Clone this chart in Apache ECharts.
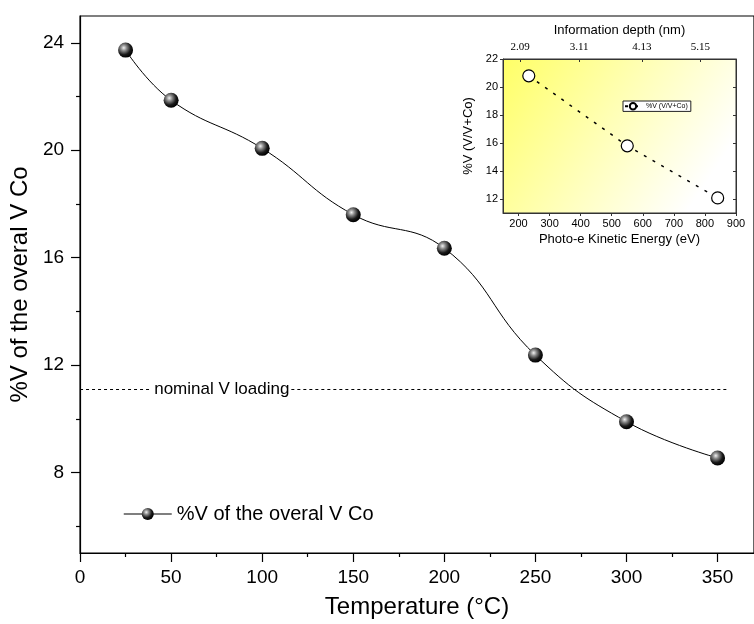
<!DOCTYPE html>
<html>
<head>
<meta charset="utf-8">
<script src="https://cdn.jsdelivr.net/npm/echarts@6/dist/echarts.min.js"></script>
<style>
  html, body { margin: 0; padding: 0; background: #fff; }
  #chart { width: 754px; height: 624px; }
</style>
</head>
<body>
<div id="chart"></div>
<script>
// main chart data
const temps = [25, 50, 100, 150, 200, 250, 300, 350];
const vPercent = [23.73, 21.86, 20.07, 17.6, 16.35, 12.37, 9.89, 8.54];
const nominalLoading = 11.1;
const xTicks = [0, 50, 100, 150, 200, 250, 300, 350];
const xMinorTicks = [25, 75, 125, 175, 225, 275, 325];
const yTicks = [8, 12, 16, 20, 24];
const yMinorTicks = [6, 10, 14, 18, 22];

// inset data
const kinetic = [233, 550, 841];
const insetV = [20.8, 15.8, 12.08];
const insetXTicks = [200, 300, 400, 500, 600, 700, 800, 900];
const insetYTicks = [12, 14, 16, 18, 20, 22];
const depthPos = [205, 395, 597, 785];
const depthLabels = ['2.09', '3.11', '4.13', '5.15'];

const font = 'Liberation Sans, Arial, sans-serif';
const ball = {
    type: 'radial', x: 0.38, y: 0.35, r: 0.65,
    colorStops: [
        { offset: 0, color: '#f2f2f2' },
        { offset: 0.3, color: '#8a8a8a' },
        { offset: 0.7, color: '#1a1a1a' },
        { offset: 1, color: '#000' }
    ]
};

let chart = echarts.init(document.getElementById('chart'));

let option = {
    animation: false,
    backgroundColor: '#fff',
    grid: [
        { left: 78, right: 0, top: 16, bottom: 71, show: true, borderColor: '#000', borderWidth: 1.2 },
        {
            left: 503, right: 18, top: 59, bottom: 411, show: true,
            borderColor: '#333', borderWidth: 1,
            backgroundColor: {
                type: 'linear', x: 0, y: 0, x2: 1, y2: 1,
                colorStops: [
                    { offset: 0, color: '#ffff66' },
                    { offset: 0.45, color: '#ffffb8' },
                    { offset: 0.85, color: '#ffffff' },
                    { offset: 1, color: '#ffffff' }
                ]
            }
        }
    ],
    legend: [
        {
            left: 118, top: 499,
            itemWidth: 48, itemHeight: 15,
            data: ['%V of the overal V Co'],
            textStyle: { fontFamily: font, fontSize: 20, color: '#000' },
            lineStyle: { color: '#555', width: 1.5 }
        },
        {
            left: 623, top: 101,
            itemWidth: 16, itemHeight: 8, itemGap: 4,
            padding: [1, 3, 1, 1],
            borderColor: '#222', borderWidth: 1,
            backgroundColor: '#fff',
            data: ['%V (V/V+Co)'],
            textStyle: { fontFamily: font, fontSize: 7, color: '#000' }
        }
    ],
    xAxis: [
        {
            gridIndex: 0, type: 'value', min: 0, max: 370,
            name: 'Temperature (°C)', nameLocation: 'middle', nameGap: 42,
            nameTextStyle: { fontFamily: font, fontSize: 24, color: '#000' },
            axisLine: { onZero: false, lineStyle: { color: '#000', width: 1.2 } },
            axisTick: { customValues: xTicks, length: 9, lineStyle: { color: '#000', width: 1.2 } },
            axisLabel: { customValues: xTicks, margin: 15, fontFamily: font, fontSize: 19, color: '#000' },
            splitLine: { show: false }
        },
        {
            gridIndex: 0, type: 'value', min: 0, max: 370, position: 'bottom',
            axisLine: { show: false, onZero: false },
            axisTick: { customValues: xMinorTicks, length: 4, lineStyle: { color: '#000', width: 1.2 } },
            axisLabel: { show: false },
            splitLine: { show: false }
        },
        {
            gridIndex: 1, type: 'value', min: 150, max: 900, position: 'bottom',
            name: 'Photo-e Kinetic Energy (eV)', nameLocation: 'middle', nameGap: 20,
            nameTextStyle: { fontFamily: font, fontSize: 13, color: '#000' },
            axisLine: { onZero: false, lineStyle: { color: '#333' } },
            axisTick: { customValues: insetXTicks, length: 3, lineStyle: { color: '#333' } },
            axisLabel: { customValues: insetXTicks, margin: 5, fontFamily: font, fontSize: 11, color: '#000' },
            splitLine: { show: false }
        },
        {
            gridIndex: 1, type: 'value', min: 150, max: 900, position: 'top',
            name: 'Information depth (nm)', nameLocation: 'middle', nameGap: 22,
            nameTextStyle: { fontFamily: font, fontSize: 13, color: '#000' },
            axisLine: { onZero: false, lineStyle: { color: '#333' } },
            axisTick: { customValues: depthPos, inside: true, length: 3, lineStyle: { color: '#333' } },
            axisLabel: {
                customValues: depthPos,
                formatter: function (v) { return depthLabels[depthPos.indexOf(v)]; },
                margin: 6, fontFamily: 'Liberation Serif, Times New Roman, serif', fontSize: 11, color: '#000'
            },
            splitLine: { show: false }
        }
    ],
    yAxis: [
        {
            gridIndex: 0, type: 'value', min: 5, max: 25,
            name: '%V of the overal V Co', nameLocation: 'middle', nameGap: 40,
            nameTextStyle: { fontFamily: font, fontSize: 24, color: '#000' },
            axisLine: { show: true, onZero: false, lineStyle: { color: '#000', width: 1.2 } },
            axisTick: { show: true, customValues: yTicks, length: 9, lineStyle: { color: '#000', width: 1.2 } },
            axisLabel: { customValues: yTicks, margin: 16, fontFamily: font, fontSize: 19, color: '#000' },
            splitLine: { show: false }
        },
        {
            gridIndex: 0, type: 'value', min: 5, max: 25, position: 'left',
            axisLine: { show: false, onZero: false },
            axisTick: { show: true, customValues: yMinorTicks, length: 4, lineStyle: { color: '#000', width: 1.2 } },
            axisLabel: { show: false },
            splitLine: { show: false }
        },
        {
            gridIndex: 1, type: 'value', min: 11, max: 22, position: 'left',
            name: '%V (V/V+Co)', nameLocation: 'middle', nameGap: 28,
            nameTextStyle: { fontFamily: font, fontSize: 13, color: '#000' },
            axisLine: { show: true, onZero: false, lineStyle: { color: '#333' } },
            axisTick: { show: true, customValues: insetYTicks, length: 3, lineStyle: { color: '#333' } },
            axisLabel: { customValues: insetYTicks, margin: 5, fontFamily: font, fontSize: 11, color: '#000' },
            splitLine: { show: false }
        },
        {
            gridIndex: 1, type: 'value', min: 11, max: 22, position: 'right',
            axisLine: { show: true, onZero: false, lineStyle: { color: '#333' } },
            axisTick: { show: true, inside: true, customValues: insetYTicks, length: 3, lineStyle: { color: '#333' } },
            axisLabel: { show: false },
            splitLine: { show: false }
        }
    ],
    series: [
        {
            name: '%V of the overal V Co',
            type: 'line',
            xAxisIndex: 0, yAxisIndex: 0,
            data: temps.map((t, i) => [t, vPercent[i]]),
            smooth: 0.45,
            symbol: 'circle', symbolSize: 15,
            lineStyle: { color: '#000', width: 1 },
            itemStyle: { color: ball, borderWidth: 0 },
            z: 5,
            markLine: {
                silent: true, symbol: 'none',
                lineStyle: { color: '#000', type: [3, 3], width: 1 },
                data: [
                    [{ coord: [0, nominalLoading], label: { show: false } }, { coord: [38, nominalLoading] }],
                    [
                        {
                            coord: [116, nominalLoading],
                            label: {
                                show: true, position: 'start', distance: 2,
                                formatter: 'nominal V loading',
                                fontFamily: font, fontSize: 17, color: '#000'
                            }
                        },
                        { coord: [356, nominalLoading] }
                    ]
                ]
            }
        },
        {
            name: '%V (V/V+Co)',
            type: 'line',
            xAxisIndex: 2, yAxisIndex: 2,
            data: kinetic.map((k, i) => [k, insetV[i]]),
            symbol: 'circle', symbolSize: 12,
            lineStyle: { color: '#000', width: 1.5, type: [3, 7] },
            itemStyle: { color: '#fff', borderColor: '#000', borderWidth: 1.2 },
            z: 5
        }
    ]
};

chart.setOption(option);
</script>
</body>
</html>
